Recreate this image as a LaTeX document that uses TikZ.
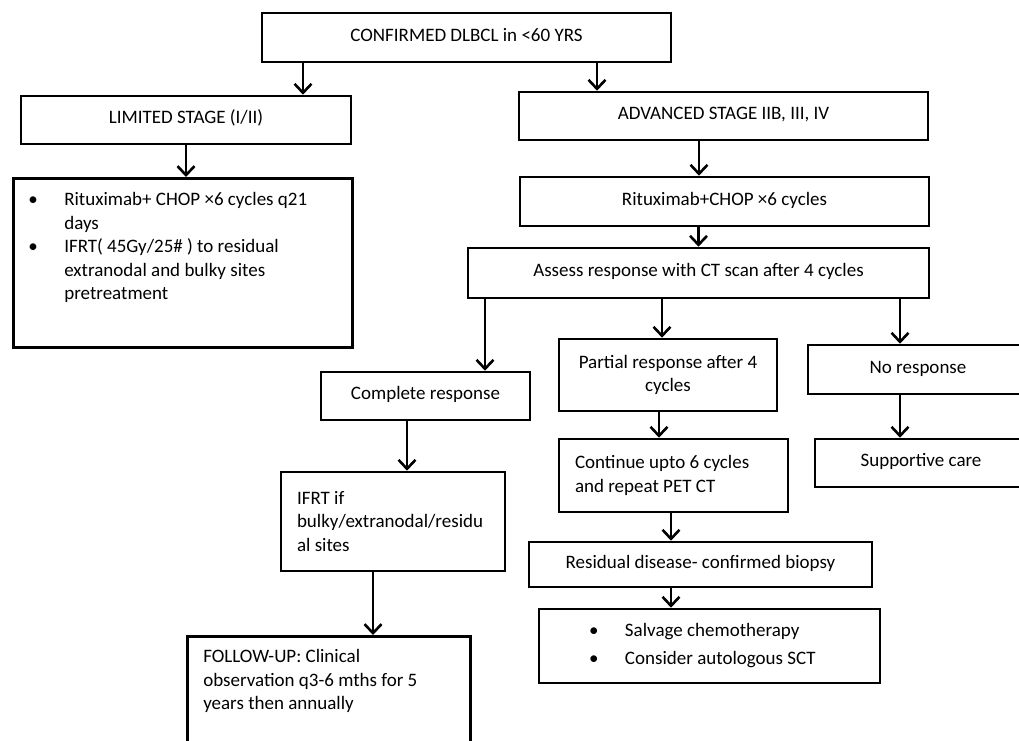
\documentclass[tikz,border=0pt]{standalone}
\usepackage{fontspec}
\setmainfont{Carlito}
\usetikzlibrary{arrows.meta}
\tikzset{
  fx/.style={x=1pt, y=-1pt, font=\fontsize{19}{23.5}\selectfont},
  f box/.style={draw, line width=2.6pt, align=flush center, inner sep=0pt},
  f one/.style={f box, text height=13pt, text depth=6pt},
  f note/.style={f box, align=flush left, inner xsep=16pt},
  f arr/.style={line width=2.6pt, -{Straight Barb[length=9pt, width=17pt]}},
}

\begin{document}
\begin{tikzpicture}[fx]
\useasboundingbox (0,0) rectangle (1019,740);
\clip (0,0) rectangle (1019,740);
\fill[white] (0,0) rectangle (1019,740);
% top and the two stages
\node[f one, minimum width=409pt, minimum height=49pt] (dlbcl) at (466.5,37.5) {CONFIRMED DLBCL in <60 YRS};
\node[f one, minimum width=330pt, minimum height=48pt] (lim) at (186,120) {LIMITED STAGE (I/II)};
\node[f note, anchor=north west, text width=309pt, inner xsep=15pt, text height=27.5pt, text depth=141.5pt] (limrx) at (12,177)
  {\makebox[36pt][l]{\textbullet}Rituximab+ CHOP ×6 cycles q21\\\hspace*{36pt}days\\\makebox[36pt][l]{\textbullet}IFRT( 45Gy/25\# ) to residual\\\hspace*{36pt}extranodal and bulky sites\\\hspace*{36pt}pretreatment};
\node[f one, minimum width=409pt, minimum height=48pt] (adv) at (723.5,116) {ADVANCED STAGE IIB, III, IV};
\node[f one, minimum width=409pt, minimum height=49pt] (rchop) at (724.5,201.5) {Rituximab+CHOP ×6 cycles};
\node[f one, minimum width=461pt, minimum height=50pt] (assess) at (698.5,273) {Assess response with CT scan after 4 cycles};
% responses
\node[f box, text width=218pt, minimum height=72pt] (part) at (668,375) {Partial response after 4\\cycles};
\node[f one, minimum width=209pt, minimum height=48pt] (comp) at (425.5,396) {Complete response};
\node[f one, minimum width=220pt, minimum height=49pt] (nores) at (918,369.5) {No response};
\node[f one, minimum width=212pt, minimum height=48pt] (supp) at (921,463) {Supportive care};
\node[f note, text width=197pt, minimum height=73pt] (cont) at (673.5,475.5) {Continue upto 6 cycles\\and repeat PET CT};
\node[f one, minimum width=343pt, minimum height=45pt] (resid) at (700.5,564.5) {Residual disease- confirmed biopsy};
\node[f note, text width=241pt, inner xsep=50pt, minimum height=74pt] (salv) at (709.5,646)
  {\makebox[36pt][l]{\textbullet}Salvage chemotherapy\\[4.5pt]\makebox[36pt][l]{\textbullet}Consider autologous SCT};
\node[f note, text width=192pt, minimum height=99pt] (ifrt) at (393,521.5) {IFRT if\\bulky/extranodal/residu\\al sites};
\node[f note, anchor=north west, text width=251pt, text height=26.5pt, text depth=120pt] (fu) at (186,635)
  {FOLLOW-UP: Clinical\\observation q3-6 mths for 5\\years then annually};
% arrows
\draw[f arr] ([xshift=-163.5pt]dlbcl.south) -- ([xshift=-163.5pt]dlbcl.south |- lim.north);
\draw[f arr] ([xshift=130.5pt]dlbcl.south) -- ([xshift=130.5pt]dlbcl.south |- adv.north);
\draw[f arr] (lim.south) -- (lim.south |- limrx.north);
\draw[f arr] ([xshift=-24.5pt]adv.south) -- ([xshift=-24.5pt]adv.south |- rchop.north);
\draw[f arr] (rchop.south -| assess.north) -- (assess.north);
\draw[f arr] ([xshift=59.5pt]comp.north |- assess.south) -- ([xshift=59.5pt]comp.north);
\draw[f arr] ([xshift=-6pt]part.north |- assess.south) -- ([xshift=-6pt]part.north);
\draw[f arr] ([xshift=-18pt]nores.north |- assess.south) -- ([xshift=-18pt]nores.north);
\draw[f arr] ([xshift=-18.5pt]comp.south) -- ([xshift=-18.5pt]comp.south |- ifrt.north);
\draw[f arr] ([xshift=-9pt]part.south) -- ([xshift=-9pt]part.south |- cont.north);
\draw[f arr] ([xshift=-18pt]nores.south) -- ([xshift=-18pt]nores.south |- supp.north);
\draw[f arr] ([xshift=-2.5pt]cont.south) -- ([xshift=-2.5pt]cont.south |- resid.north);
\draw[f arr] ([xshift=-29.5pt]resid.south) -- ([xshift=-29.5pt]resid.south |- salv.north);
\draw[f arr] ([xshift=-20pt]ifrt.south) -- ([xshift=-20pt]ifrt.south |- fu.north);
\end{tikzpicture}
\end{document}
